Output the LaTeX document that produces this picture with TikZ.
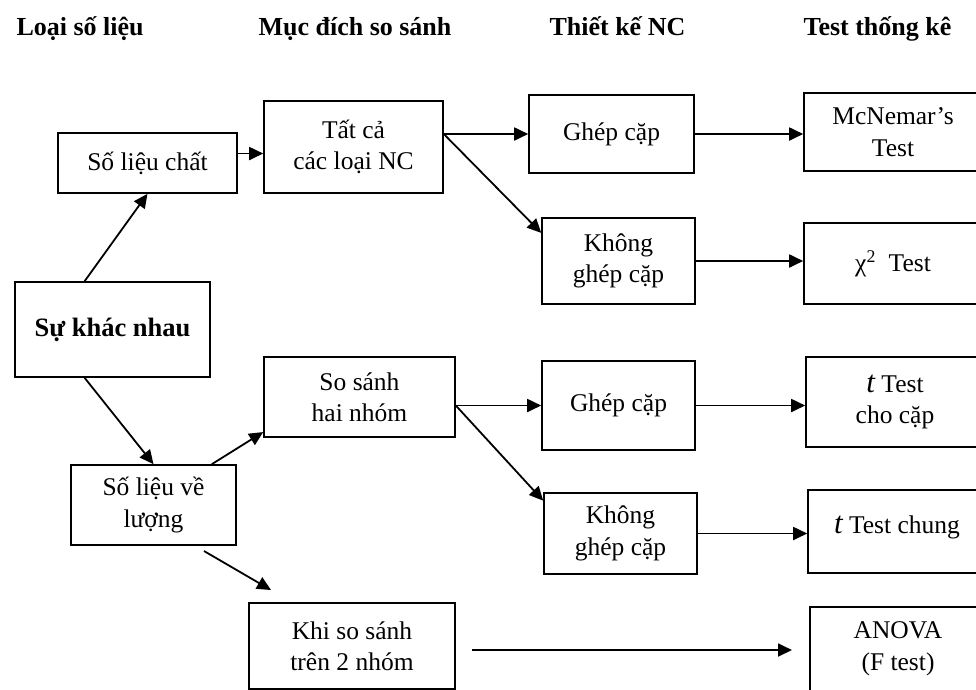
\documentclass[tikz,border=0pt]{standalone}
\usepackage{fontspec}
\setmainfont{Liberation Serif}
\usepackage{tikz}
\usetikzlibrary{arrows.meta}
\usetikzlibrary{positioning}
\tikzset{
    mybox/.style = {rectangle, draw=black, line width=1.6pt, align=center, inner sep=0pt},
    myhead/.style = {anchor=base west, font=\fontsize{26}{31}\selectfont\bfseries},
    edgea/.style = {line width=1.8pt, -{Triangle[length=14pt,width=13pt]}},
}
\newcommand{\tit}{{\fontsize{31}{31}\selectfont\itshape t}}

\begin{document}
\begin{tikzpicture}[
	x=1pt, y=-1pt,
	font=\fontsize{25.5}{31.5}\selectfont
]
\path[use as bounding box, clip] (0,0) rectangle (976,689);
% column titles
\node[myhead] at (13,35) (h1) {Loại số liệu};
\node[myhead] at (255,35) (h2) {Mục đích so sánh};
\node[myhead] at (546,35) (h3) {Thiết kế NC};
\node[myhead] at (800,35) (h4) {Test thống kê};
%
\node[mybox, minimum width=195, minimum height=95, font=\fontsize{26.5}{31}\selectfont\bfseries] at (112.5,329.5) (diff) {Sự khác nhau};
\node[mybox, minimum width=179, minimum height=60] at (147.5,163) (chat) {Số liệu chất};
\node[mybox, minimum width=165, minimum height=80] at (153.5,505) (luong) {Số liệu về\\lượng};
%
\node[mybox, minimum width=179, minimum height=92] at (353.5,147) (tatca) {Tất cả\\các loại NC};
\node[mybox, minimum width=191, minimum height=80] at (359.5,397) (sosanh) {So sánh\\hai nhóm};
\node[mybox, minimum width=206, minimum height=86] at (352,646) (khi) {Khi so sánh\\trên 2 nhóm};
%
\node[mybox, minimum width=165, minimum height=78] at (611.5,134) (ghep1) {Ghép cặp};
\node[mybox, minimum width=153, minimum height=86] at (618.5,261) (khong1) {Không\\ghép cặp};
\node[mybox, minimum width=153, minimum height=89] at (618.5,405.5) (ghep2) {Ghép cặp};
\node[mybox, minimum width=153, minimum height=81] at (620.5,533.5) (khong2) {Không\\ghép cặp};
%
\node[mybox, minimum width=178, minimum height=78] at (893,132) (mcn) {McNemar’s\\Test};
\node[mybox, minimum width=178, minimum height=81] at (893,263.5) (chi) {χ\textsuperscript{2}\ \ Test};
\node[mybox, minimum width=178, minimum height=90] at (895,402) (tcap) {\tit\ Test\\cho cặp};
\node[mybox, minimum width=178, minimum height=83, text depth=14pt] at (897,531.5) (tchung) {\tit\ Test chung};
\node[mybox, minimum width=176, minimum height=84] at (898,649) (anova) {ANOVA\\(F test)};
%
\coordinate (l1) at (204,551);
\coordinate (l2) at (271,590);
\coordinate (k1) at (472,650);
\coordinate (k2) at (792,650);
%
\draw[edgea] (diff.120) -- (chat.south);
\draw[edgea] (diff.240) -- (luong.north);
\draw[edgea] (chat.6) -- (chat.6 -| tatca.west);
\draw[edgea] (luong.35) -- (sosanh.200);
\draw[edgea] (l1) -- (l2);
%
\draw[edgea] (ghep1.west -| tatca.east) -- (ghep1.west);
\draw[edgea] (ghep1.west -| tatca.east) -- (khong1.160);
\draw[edgea] (ghep2.west -| sosanh.east) -- (ghep2.west);
\draw[edgea] (ghep2.west -| sosanh.east) -- (khong2.157);
%
\draw[edgea] (ghep1.east) -- (ghep1.east -| mcn.west);
\draw[edgea] (khong1.east) -- (khong1.east -| chi.west);
\draw[edgea] (ghep2.east) -- (ghep2.east -| tcap.west);
\draw[edgea] (khong2.east) -- (khong2.east -| tchung.west);
\draw[edgea] (k1) -- (k2);
\end{tikzpicture}
\end{document}
